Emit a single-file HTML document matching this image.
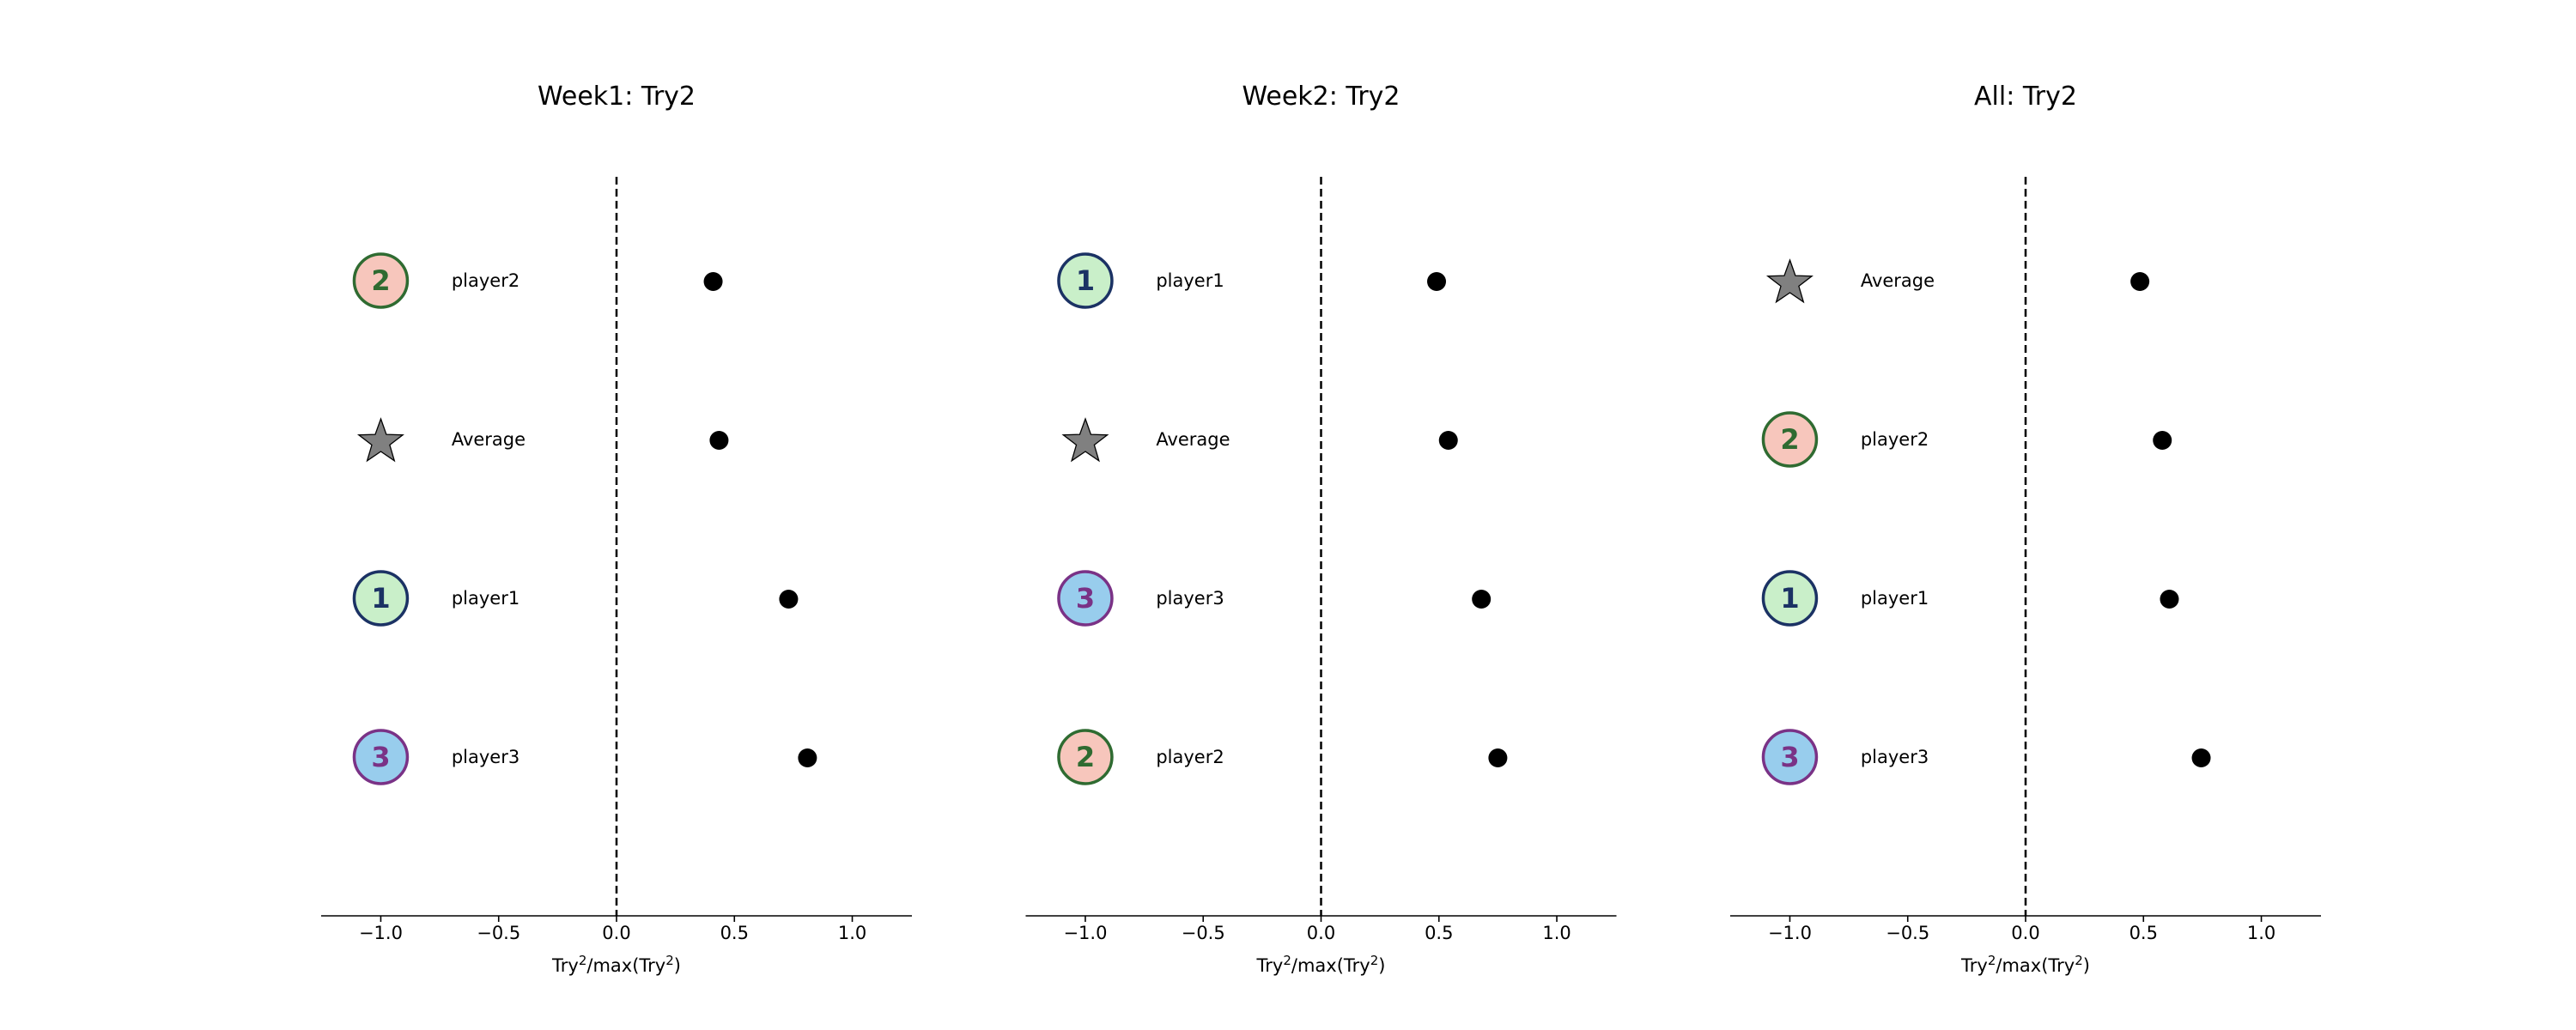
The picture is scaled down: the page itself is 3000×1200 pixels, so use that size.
<!DOCTYPE html>
<html><head><meta charset="utf-8"><style>
html,body{margin:0;padding:0;background:#fff;}
svg{display:block;font-family:"DejaVu Sans","Liberation Sans",sans-serif;}
</style></head><body>
<svg id="chart" width="3000" height="1200" viewBox="0 0 3000 1200" xmlns="http://www.w3.org/2000/svg"></svg>
<script>
const panelTitles = ["Week1: Try2", "Week2: Try2", "All: Try2"];
const panel1Names = ["player2", "Average", "player1", "player3"];
const panel1Values = [0.41, 0.435, 0.73, 0.81];
const panel2Names = ["player1", "Average", "player3", "player2"];
const panel2Values = [0.49, 0.54, 0.68, 0.75];
const panel3Names = ["Average", "player2", "player1", "player3"];
const panel3Values = [0.485, 0.58, 0.61, 0.745];
const xTicks = [-1.0, -0.5, 0.0, 0.5, 1.0];
const xTickLabels = ["\u22121.0", "\u22120.5", "0.0", "0.5", "1.0"];

const NS = "http://www.w3.org/2000/svg";
const svg = document.getElementById("chart");
function mk(tag, attrs, parent) {
  const e = document.createElementNS(NS, tag);
  for (const k in attrs) e.setAttribute(k, attrs[k]);
  (parent || svg).appendChild(e);
  return e;
}
const markerStyle = {
  player1: {fill: "#c9efc9", stroke: "#1b3264", num: "1"},
  player2: {fill: "#f7c6bc", stroke: "#2f6b31", num: "2"},
  player3: {fill: "#98cded", stroke: "#7a3286", num: "3"}
};
const panels = [
  {names: panel1Names, values: panel1Values},
  {names: panel2Names, values: panel2Values},
  {names: panel3Names, values: panel3Values}
];
const axLeft0 = 374, axWidth = 688, panelStep = 820.5;
const xMin = -1.253, xMax = 1.253;
const axTop = 206, axBottom = 1067, rowTop = 327, rowStep = 185;

panels.forEach((p, pi) => {
  const left = axLeft0 + pi * panelStep;
  const xs = v => left + (v - xMin) / (xMax - xMin) * axWidth;
  const ys = i => rowTop + i * rowStep;
  const g = mk("g", {});
  
  

  const t = mk("text", {x: left + axWidth / 2, y: 122, "text-anchor": "middle", "font-size": 30, fill: "#000"}, g);
  t.textContent = panelTitles[pi];
  
  

  const zl = mk("line", {x1: xs(0), x2: xs(0), y1: axTop, y2: axBottom, stroke: "#000", "stroke-width": 2.5, "stroke-dasharray": "9,5"}, g);
  
  

  const ax = mk("line", {x1: left, x2: left + axWidth, y1: axBottom, y2: axBottom, stroke: "#000", "stroke-width": 1.6}, g);
  
  

  xTicks.forEach((v, i) => {
    const tk = mk("line", {x1: xs(v), x2: xs(v), y1: axBottom, y2: axBottom + 7, stroke: "#000", "stroke-width": 1.6}, g);
    
    
    const tl = mk("text", {x: xs(v), y: axBottom + 27, "text-anchor": "middle", "font-size": 21, fill: "#000"}, g);
    tl.textContent = xTickLabels[i];
    
    
  });

  const xl = mk("text", {x: xs(0), y: 1132, "text-anchor": "middle", "font-size": 21, fill: "#000"}, g);
  xl.innerHTML = 'Try<tspan dy="-8" font-size="15">2</tspan><tspan dy="8">/max(Try</tspan><tspan dy="-8" font-size="15">2</tspan><tspan dy="8">)</tspan>';
  
  

  p.names.forEach((name, i) => {
    const y = ys(i);
    const cx = xs(-1);
    if (name === "Average") {
      const R = 27, r = 11;
      let pts = [];
      for (let k = 0; k < 10; k++) {
        const a = -Math.PI / 2 + k * Math.PI / 5;
        const rad = k % 2 === 0 ? R : r;
        pts.push((cx + rad * Math.cos(a)).toFixed(1) + "," + (y + 3 + rad * Math.sin(a)).toFixed(1));
      }
      const st = mk("polygon", {points: pts.join(" "), fill: "#808080", stroke: "#000", "stroke-width": 1.3}, g);
      
      
    } else {
      const s = markerStyle[name];
      const c = mk("circle", {cx: cx, cy: y, r: 31, fill: s.fill, stroke: s.stroke, "stroke-width": 3.5}, g);
      
      
      const n = mk("text", {x: cx, y: y + 11, "text-anchor": "middle", "font-size": 32, "font-weight": "bold", fill: s.stroke}, g);
      n.textContent = s.num;
      
      
    }
    const lbl = mk("text", {x: xs(-0.7), y: y + 7, "font-size": 21, fill: "#000"}, g);
    lbl.textContent = name;
    
    

    const d = mk("circle", {cx: xs(p.values[i]), cy: y + 1, r: 11, fill: "#000"}, g);
    
    
  });
});
</script>
</body></html>
